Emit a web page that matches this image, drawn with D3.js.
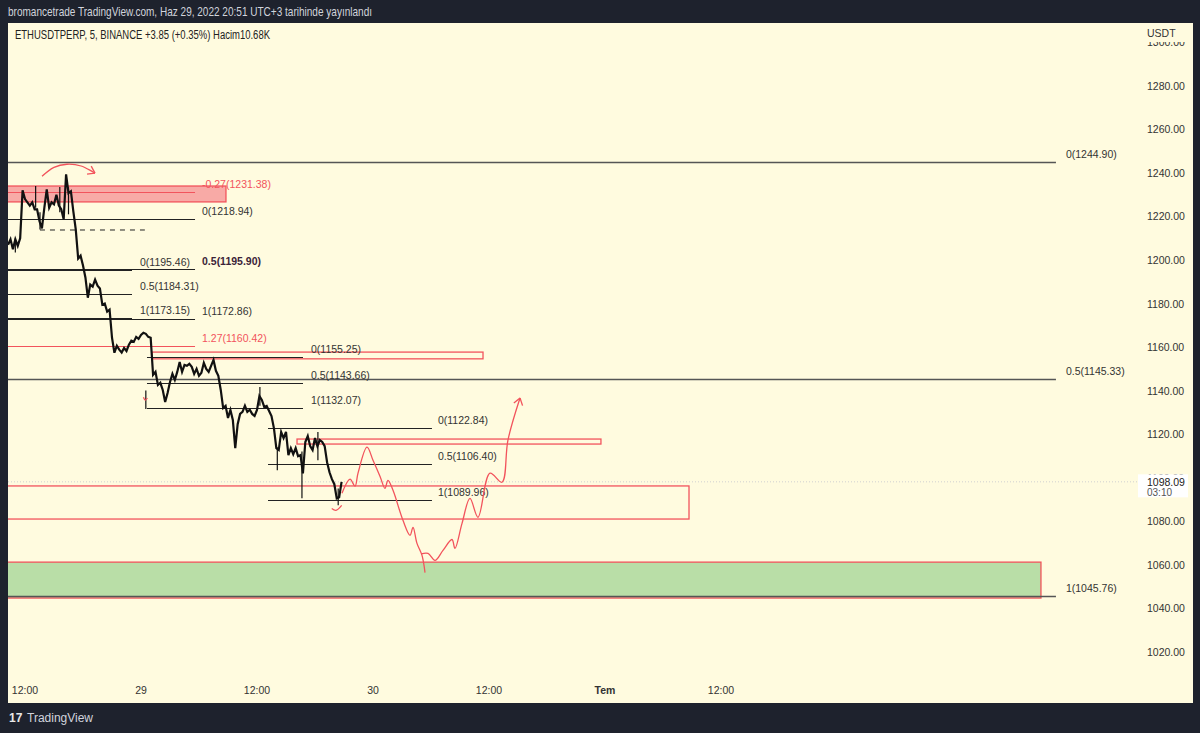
<!DOCTYPE html>
<html>
<head>
<meta charset="utf-8">
<script src="https://cdn.jsdelivr.net/npm/d3@7"></script>
<style>
html, body { margin: 0; padding: 0; background: #1e222d; }
svg { display: block; }
text { font-family: "Liberation Sans", Arial, sans-serif; }
</style>
</head>
<body>
<div id="drawing-area" style="width:1200px;height:733px"></div>
<script>

// time axis, hours from 28 Jun 00:00
var timeTicks = [12, 24, 36, 48, 60, 72, 84];
var timeLabels = ["12:00", "29", "12:00", "30", "12:00", "Tem", "12:00"];
var priceTicks = [1020, 1040, 1060, 1080, 1100, 1120, 1140, 1160, 1180, 1200, 1220, 1240, 1260, 1280, 1300];

// 15 min closes, starting 28 Jun 10:15
var barStart = 10.25, barStep = 0.25;
var closes = [
    1207, 1209.5, 1205, 1209.5, 1206.5, 1210, 1232, 1228, 1226.5, 1225,
    1226.5, 1223.3, 1223.3, 1217.8, 1214.5, 1224, 1232.5, 1224, 1226.5, 1225.6,
    1230, 1225, 1223.3, 1218.7, 1239.4, 1230.7, 1231.6, 1222.4, 1214.1, 1200.7,
    1202, 1197.5, 1192, 1182.7, 1188.7, 1187.8, 1191, 1188.2, 1186.9, 1179.5,
    1180, 1176.3, 1177.2, 1164.3, 1157.4, 1160.6, 1158.8, 1157.5, 1159.6, 1158.2,
    1161.1, 1162.9, 1162.4, 1164.7, 1163.8, 1165.6, 1166.6, 1166.1, 1164.7, 1164.3,
    1147.2, 1148.6, 1142.6, 1143.6, 1140.3, 1134.8, 1138.9, 1144, 1147.7, 1144.9,
    1148.6, 1153.2, 1148.6, 1151.8, 1151.4, 1152.3, 1150.9, 1147.7, 1150, 1146.8,
    1148.2, 1152.8, 1150, 1148.6, 1151.4, 1154.1, 1149.1, 1146.8, 1140.3, 1132,
    1133, 1127.4, 1131.1, 1126.5, 1113.6, 1124.6, 1129.3, 1130.2, 1133, 1130.2,
    1131.2, 1129.3, 1128.4, 1131.1, 1137.5, 1135.7, 1132.5, 1133, 1130.6, 1128.3,
    1122.8, 1113.6, 1112.7, 1121, 1118.2, 1121, 1110.4, 1113.6, 1110.8, 1113.6,
    1109.9, 1110.4, 1102, 1116.4, 1119.1, 1114.5, 1112.7, 1118.2, 1114.5, 1117.3,
    1116.4, 1114.5, 1107.1, 1102.5, 1099.3, 1097, 1090.5, 1091, 1098.1
];
// [hour, low, high] of the longer wicks
var wicks = [
    [11.0, 1203.5, 1210], [13.1, 1224, 1234], [13.55, 1214, 1222], [15.6, 1222, 1233.5], [16.5, 1221, 1233.4],
    [24.5, 1131.5, 1140], [36.3, 1133, 1141.7], [38.1, 1103.4, 1114],
    [40.65, 1090.5, 1112], [42.3, 1108, 1121], [44.4, 1087.3, 1095]
];
var lastPrice = 1098.09;

// fib levels: [label, price, colour class]
var fibLong = [["0(1244.90)", 1244.90], ["0.5(1145.33)", 1145.33], ["1(1045.76)", 1045.76]];
var fibB = [["-0.27(1231.38)", 1231.38, "r"], ["0(1218.94)", 1218.94], ["0.5(1195.90)", 1195.90, "b"],
            ["1(1172.86)", 1172.86], ["1.27(1160.42)", 1160.42, "r"]];
var fibC = [["0(1195.46)", 1195.46], ["0.5(1184.31)", 1184.31], ["1(1173.15)", 1173.15]];
var fibD = [["0(1155.25)", 1155.25], ["0.5(1143.66)", 1143.66], ["1(1132.07)", 1132.07]];
var fibE = [["0(1122.84)", 1122.84], ["0.5(1106.40)", 1106.40], ["1(1089.96)", 1089.96]];
var fibSpans = { long: [0, 118.65], B: [0, 29.59], C: [0, 23.07], D: [24.62, 40.76], E: [37.14, 54.10] };

// zones [h0, h1, pLow, pHigh, fill]
var zones = [
    [0, 32.79, 1226.7, 1234.0, "#f8aaa6"],
    [25.14, 59.38, 1154.6, 1157.7, "none"],
    [40.14, 71.58, 1115.45, 1117.75, "none"],
    [0, 80.69, 1081.0, 1096.2, "none"],
    [0, 117.1, 1044.7, 1061.2, "#b9dea7"]
];
var dashed = [13.55, 24.4, 1213.8];

// hand drawn red paths [hour, price]
var arcTop = [[13.76, 1238.5], [15.0, 1242.6], [16.34, 1244.0], [17.8, 1243.2], [19.24, 1239.9]];
var projA = [[44.79, 1092.8], [45.62, 1099.3], [46.14, 1096.1], [46.45, 1102.1], [47.38, 1114.0],
             [48.0, 1108.0], [48.72, 1100.7], [49.24, 1095.1], [49.55, 1098.8], [50.07, 1094.2],
             [51.1, 1080.4], [51.83, 1073.5], [52.14, 1077.2], [52.55, 1069.8], [53.07, 1064.3], [53.38, 1056.4]];
var projB = [[53.0, 1065.0], [53.69, 1065.2], [54.41, 1062.0], [55.24, 1066.6], [56.17, 1071.6],
             [56.48, 1067.5], [57.21, 1079.0], [58.03, 1090.5], [58.86, 1081.8], [60.1, 1102.1],
             [61.34, 1097.9], [61.96, 1117.3], [63.21, 1136.6]];
var smile = [[43.73, 1085.8], [44.17, 1085.0], [44.76, 1087.3]];
var tick = [[24.25, 1137.0], [24.45, 1135.6], [24.66, 1136.6]];

var sx = 1200, sy = 733;
var svg = d3.select('#drawing-area').append('svg').attr('width', sx).attr('height', sy);

var panel = { x0: 8, x1: 1193, y0: 23, y1: 703, plotRight: 1137 };
var x = d3.scaleLinear().domain([12, 84]).range([25, 721]);
var y = d3.scaleLinear().domain([1020, 1280]).range([651.8, 85.9]);
var RED = "#f2535c";
var BG = "#fffbdf";

svg.append("rect").attr("x", panel.x0).attr("y", panel.y0)
    .attr("width", panel.x1 - panel.x0).attr("height", panel.y1 - panel.y0)
    .attr("fill", BG);

svg.append("text").attr("x", 8).attr("y", 16).attr("fill", "#d1d4dc")
    .style("font-size", "13px")
    .attr("textLength", 364).attr("lengthAdjust", "spacingAndGlyphs")
    .text("bromancetrade TradingView.com, Haz 29, 2022 20:51 UTC+3 tarihinde yayınlandı");

svg.append("text").attr("x", 15).attr("y", 39).attr("fill", "#222")
    .style("font-size", "12px")
    .attr("textLength", 255).attr("lengthAdjust", "spacingAndGlyphs")
    .text("ETHUSDTPERP, 5, BINANCE  +3.85 (+0.35%)  Hacim10.68K");

var defs = svg.append("defs");
defs.append("clipPath").attr("id", "plot")
    .append("rect").attr("x", panel.x0).attr("y", panel.y0)
    .attr("width", panel.plotRight - panel.x0).attr("height", panel.y1 - panel.y0);
defs.append("clipPath").attr("id", "axis")
    .append("rect").attr("x", 1138).attr("y", 42).attr("width", 55).attr("height", 660);

var plot = svg.append("g").attr("clip-path", "url(#plot)");

// last price dotted line
plot.append("line").attr("x1", panel.x0).attr("x2", panel.plotRight)
    .attr("y1", y(lastPrice)).attr("y2", y(lastPrice))
    .attr("stroke", "#d0d0d0").attr("stroke-dasharray", "1,2");

// zones
zones.forEach(function (z) {
    plot.append("rect")
        .attr("x", x(z[0])).attr("y", y(z[3]))
        .attr("width", x(z[1]) - x(z[0])).attr("height", y(z[2]) - y(z[3]))
        .attr("fill", z[4]).attr("stroke", RED).attr("stroke-width", 1.3);
});

// fib sets
function fibSet(levels, span, gap, strokeCol, width) {
    levels.forEach(function (l) {
        var col = l[2] == "r" ? RED : strokeCol;
        var ly = Math.round(y(l[1])) + 0.5;
        plot.append("line")
            .attr("x1", x(span[0])).attr("x2", x(span[1]))
            .attr("y1", ly).attr("y2", ly)
            .attr("stroke", col).attr("stroke-width", width);
        var t = plot.append("text")
            .attr("x", x(span[1]) + gap).attr("y", ly - 4.5)
            .attr("fill", l[2] == "r" ? RED : (l[2] == "b" ? "#3b2338" : "#333"))
            .style("font-size", "10.5px")
            .text(l[0]);
        if (l[2] == "b") t.style("font-weight", "bold");
    });
}
fibSet(fibLong, fibSpans.long, 10, "#555", 1.5);
fibSet(fibC, fibSpans.C, 8, "#222", 1);
fibSet(fibB, fibSpans.B, 7, "#222", 1);
fibSet(fibD, fibSpans.D, 8, "#222", 1);
fibSet(fibE, fibSpans.E, 6, "#222", 1);

plot.append("line").attr("x1", x(dashed[0])).attr("x2", x(dashed[1]))
    .attr("y1", y(dashed[2])).attr("y2", y(dashed[2]))
    .attr("stroke", "#222").attr("stroke-dasharray", "5,5");

// price
wicks.forEach(function (w) {
    plot.append("line").attr("x1", x(w[0])).attr("x2", x(w[0]))
        .attr("y1", y(w[1])).attr("y2", y(w[2]))
        .attr("stroke", "#111").attr("stroke-width", 1.2);
});
var priceLine = d3.line()
    .x(function (d, i) { return x(barStart + i * barStep); })
    .y(function (d) { return y(d); });
plot.append("path").attr("d", priceLine(closes))
    .attr("fill", "none").attr("stroke", "#111").attr("stroke-width", 2.2)
    .attr("stroke-linejoin", "miter");

// red drawings
var smooth = d3.line().x(function (d) { return x(d[0]); }).y(function (d) { return y(d[1]); })
    .curve(d3.curveCatmullRom);
function redPath(pts, arrow) {
    plot.append("path").attr("d", smooth(pts))
        .attr("fill", "none").attr("stroke", RED).attr("stroke-width", 1.3);
    if (!arrow) return;
    var a = pts[pts.length - 2], b = pts[pts.length - 1];
    var bx = x(b[0]), by = y(b[1]);
    var ang = Math.atan2(by - y(a[1]), bx - x(a[0]));
    [-0.6, 0.6].forEach(function (d) {
        plot.append("line").attr("x1", bx).attr("y1", by)
            .attr("x2", bx - 8 * Math.cos(ang + d)).attr("y2", by - 8 * Math.sin(ang + d))
            .attr("stroke", RED).attr("stroke-width", 1.3);
    });
}
redPath(arcTop, true);
redPath(projA, false);
redPath(projB, true);
redPath(smile, false);
redPath(tick, false);

// price axis
var axisG = svg.append("g").attr("clip-path", "url(#axis)");
priceTicks.forEach(function (p) {
    axisG.append("text").attr("x", 1147).attr("y", y(p) + 4)
        .attr("fill", "#333").style("font-size", "10.5px")
        .text(p.toFixed(2));
});
svg.append("text").attr("x", 1147).attr("y", 37).attr("fill", "#333").style("font-size", "10.5px").text("USDT");
svg.append("rect").attr("x", 1138).attr("y", y(lastPrice) - 7.5).attr("width", 50).attr("height", 23).attr("fill", "#fff");
svg.append("text").attr("x", 1147).attr("y", y(lastPrice) + 4).attr("fill", "#222").style("font-size", "10.5px").text(lastPrice.toFixed(2));
svg.append("text").attr("x", 1147).attr("y", y(lastPrice) + 14).attr("fill", "#555").style("font-size", "10px").text("03:10");

// time axis
timeTicks.forEach(function (t, i) {
    svg.append("text").attr("x", x(t)).attr("y", 694)
        .attr("text-anchor", "middle").attr("fill", "#333")
        .style("font-size", "10.5px").style("font-weight", timeLabels[i] == "Tem" ? "bold" : "normal")
        .text(timeLabels[i]);
});

// footer logo
svg.append("text").attr("x", 9).attr("y", 722).attr("fill", "#e8e8e8")
    .style("font-size", "12px").style("font-weight", "bold").text("17");
svg.append("text").attr("x", 27).attr("y", 722).attr("fill", "#d1d4dc")
    .style("font-size", "12px").text("TradingView");

</script>
</body>
</html>
